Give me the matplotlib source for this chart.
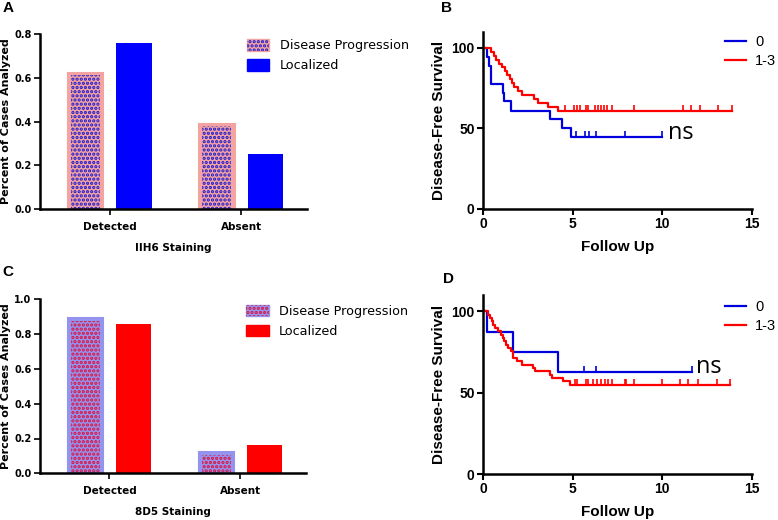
import matplotlib
matplotlib.use('Agg')
import matplotlib.pyplot as plt
import matplotlib.patches as mpatches
import numpy as np

# Bar panel data
groups = ['Detected', 'Absent']
iih6_progression = [0.62, 0.39]
iih6_localized = [0.76, 0.25]
d85_progression = [0.89, 0.12]
d85_localized = [0.86, 0.16]

# Kaplan-Meier steps, panel B
b0_time = [0, 0.22, 0.34, 0.45, 1.1, 1.18, 1.58, 3.76, 4.43, 4.88, 10.0]
b0_surv = [100, 94.4, 88.9, 77.8, 72.2, 66.7, 61.1, 55.6, 50.0, 44.4, 44.4]
b0_cens = [5.17, 5.67, 5.9, 6.28, 7.94, 10.0]
b13_time = [0, 0.45, 0.6, 0.75, 0.9, 1.05, 1.2, 1.35, 1.5, 1.6, 1.75, 1.95,
            2.2, 2.85, 3.05, 3.65, 4.2, 13.9]
b13_surv = [100, 97.6, 95.1, 92.7, 90.2, 87.8, 85.4, 82.9, 80.5, 78.0, 75.6,
            73.2, 70.7, 68.3, 65.9, 63.4, 61.0, 61.0]
b13_cens = [4.55, 5.1, 5.26, 5.41, 5.74, 5.84, 6.24, 6.43, 6.56, 6.75, 6.93,
            7.17, 8.44, 11.16, 11.6, 12.1, 13.1, 13.9]

# Kaplan-Meier steps, panel D
d0_time = [0, 0.2, 1.65, 4.16, 11.65]
d0_surv = [100, 87.5, 75.0, 62.5, 62.5]
d0_cens = [5.63, 6.3, 11.65]
d13_time = [0, 0.3, 0.39, 0.48, 0.58, 0.67, 0.85, 0.99, 1.1, 1.17, 1.28, 1.41,
            1.54, 1.69, 1.88, 2.16, 2.81, 2.9, 3.74, 3.83, 4.48, 4.85, 13.8]
d13_surv = [100, 97.9, 95.9, 93.8, 91.8, 89.7, 87.7, 85.6, 83.6, 81.5, 79.5,
            77.4, 75.4, 71.3, 69.2, 67.2, 65.1, 63.1, 61.0, 59.0, 56.9, 54.8, 54.8]
d13_cens = [5.13, 5.22, 5.74, 5.88, 6.15, 6.34, 6.56, 6.8, 6.99, 7.21, 7.92,
            8.0, 8.4, 9.97, 10.99, 11.45, 12.0, 13.03, 13.78]

plt.rcParams['hatch.linewidth'] = 1.6

W, H = 778, 520
fig = plt.figure(figsize=(W / 100, H / 100), dpi=100)

def box(x0, x1, ytop, ybot):
    return [x0 / W, 1 - ybot / H, (x1 - x0) / W, (ybot - ytop) / H]

bar_font = 'DejaVu Sans'
km_font = 'Liberation Sans'
HATCH = '....'


def bar_panel(rect, prog, loc, ylim, yticks, xlabel, face, dots, solid):
    ax = fig.add_axes(rect)
    x = np.arange(len(groups))
    w, off = 0.27, 0.185
    ax.bar(x - off, prog, w, color=face, edgecolor=face, linewidth=1.5)
    ax.bar(x - off, np.array(prog) - 0.012 * ylim[1], w * 0.82, color='none',
           edgecolor=dots, hatch=HATCH, linewidth=0)
    ax.bar(x + off, loc, w, color=solid, edgecolor=solid, linewidth=0)
    ax.set_xlim(-0.53, 1.5)
    ax.set_ylim(*ylim)
    ax.set_yticks(yticks)
    ax.set_yticklabels(['%.1f' % v for v in yticks], fontfamily=bar_font,
                       fontweight='bold', fontsize=7)
    ax.set_xticks(x)
    ax.set_xticklabels(groups, fontfamily=bar_font, fontweight='bold',
                       fontsize=7.5)
    ax.tick_params(axis='x', length=4, width=1.2, pad=5)
    ax.tick_params(axis='y', length=4, width=1.2, pad=2)
    for s in ['top', 'right']:
        ax.spines[s].set_visible(False)
    for s in ['left', 'bottom']:
        ax.spines[s].set_linewidth(1.8)
    ax.set_xlabel(xlabel, fontfamily=bar_font, fontweight='bold', fontsize=7.5,
                  labelpad=8)
    ax.set_ylabel('Percent of Cases Analyzed', fontfamily=bar_font,
                  fontweight='bold', fontsize=8)
    ax.yaxis.set_label_coords(-0.11, 0.5)
    h1 = (mpatches.Patch(facecolor=face, edgecolor=face),
          mpatches.Patch(facecolor='none', edgecolor=dots, hatch=HATCH,
                         linewidth=0))
    h2 = mpatches.Patch(facecolor=solid, edgecolor=solid)
    ax.legend([h1, h2], ['Disease Progression', 'Localized'],
              loc='upper left', bbox_to_anchor=(0.775, 0.97),
              frameon=False, borderpad=0, borderaxespad=0,
              handlelength=1.75, handleheight=1.0,
              handletextpad=0.8, labelspacing=0.55,
              prop={'family': bar_font, 'size': 9.2})
    return ax


def km_panel(rect, curves, ns_xy, leg_top):
    ax = fig.add_axes(rect)
    handles = []
    for t, s, c, col, lab in curves:
        ln, = ax.plot(t, s, drawstyle='steps-post', color=col, lw=1.6,
                      label=lab)
        ax.plot(c, [s[-1]] * len(c), linestyle='none', marker=2,
                markersize=4, color=col, mew=1.2)
        handles.append(ln)
    ax.set_xlim(0, 15)
    ax.set_ylim(0, 110)
    ax.set_xticks([0, 5, 10, 15])
    ax.set_yticks([0, 50, 100])
    for lbl in ax.get_xticklabels() + ax.get_yticklabels():
        lbl.set_fontfamily(km_font)
        lbl.set_fontweight('bold')
        lbl.set_fontsize(10)
    ax.tick_params(length=4, width=1.5, pad=2)
    for s in ['top', 'right']:
        ax.spines[s].set_visible(False)
    for s in ['left', 'bottom']:
        ax.spines[s].set_linewidth(1.8)
    ax.set_xlabel('Follow Up', fontfamily=km_font, fontweight='bold',
                  fontsize=11, labelpad=6)
    ax.set_ylabel('Disease-Free Survival', fontfamily=km_font,
                  fontweight='bold', fontsize=11, labelpad=4)
    ax.legend(handles, ['0', '1-3'], loc='upper left',
              bbox_to_anchor=(0.9, leg_top), frameon=False, borderpad=0,
              borderaxespad=0, handlelength=1.45,
              handletextpad=0.6, labelspacing=0.3,
              prop={'family': km_font, 'size': 10.5})
    ax.text(ns_xy[0], ns_xy[1], 'ns', fontsize=17, fontfamily='Open Sans',
            va='center', ha='left')
    return ax


bar_panel(box(40, 307, 34, 209), iih6_progression, iih6_localized,
          (0, 0.8), [0, 0.2, 0.4, 0.6, 0.8], 'IIH6 Staining',
          '#f4a3a3', '#1a1ad0', '#0000ff')
bar_panel(box(40, 306, 299.3, 473.3), d85_progression, d85_localized,
          (0, 1.0), [0, 0.2, 0.4, 0.6, 0.8, 1.0], '8D5 Staining',
          '#9494ee', '#e0103a', '#ff0000')

km_panel(box(483, 752, 31.7, 209),
         [(b0_time, b0_surv, b0_cens, '#0000dd', '0'),
          (b13_time, b13_surv, b13_cens, '#ff0000', '1-3')],
         (10.3, 47), 0.979)
km_panel(box(483, 752, 295, 474),
         [(d0_time, d0_surv, d0_cens, '#0000dd', '0'),
          (d13_time, d13_surv, d13_cens, '#ff0000', '1-3')],
         (11.9, 66), 0.97)

for letter, x, y in [('A', 8, 8), ('B', 447, 8), ('C', 8, 272), ('D', 448, 279)]:
    fig.text(x / W, 1 - y / H, letter, fontfamily=km_font, fontweight='bold',
             fontsize=11, ha='center', va='center')

fig.savefig('out.png', dpi=100)
